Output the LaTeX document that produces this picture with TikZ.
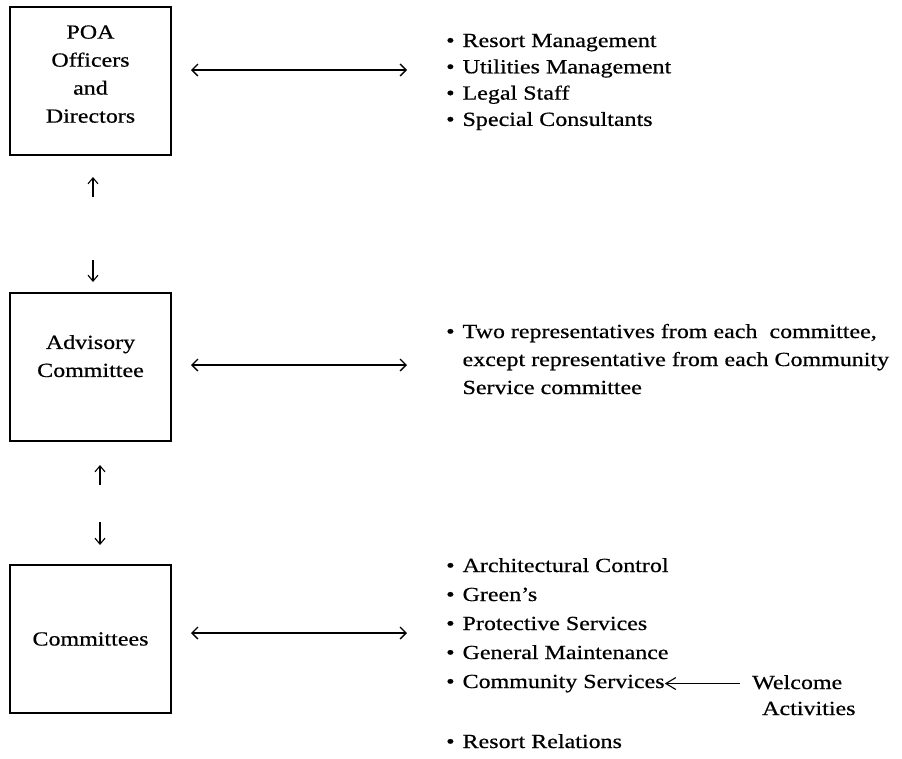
\documentclass[tikz,border=0pt]{standalone}
\usepackage{fontspec}
\setmainfont{Liberation Serif}[FakeStretch=1.2, FakeBold=0.6]
\usetikzlibrary{arrows.meta}
\newcommand{\bul}{\textbullet\hspace{8pt}}
\tikzset{
  box/.style={draw, line width=1.5pt, minimum width=161pt, minimum height=148pt, align=center, inner sep=0pt},
  item/.style={anchor=base west, inner sep=0pt},
  link/.style={{Straight Barb[length=6pt,width=12pt]}-{Straight Barb[length=6pt,width=12pt]}, line width=1.3pt},
  vert/.style={-{Straight Barb[length=6pt,width=10pt]}, line width=1.1pt},
  feed/.style={-{Straight Barb[length=10pt,width=12pt]}, line width=1.1pt, shorten <=12pt}}

\begin{document}
\begin{tikzpicture}[x=1pt, y=-1pt, font=\fontsize{20}{28}\selectfont]
\useasboundingbox (0,0) rectangle (902,758);
% the three levels
\node[box, text depth=14pt] (poa) at (90.5,81) {POA\\Officers\\and\\Directors};
\node[box, text depth=22pt] (adv) at (90.5,367) {Advisory\\Committee};
\node[box] (com) at (90.5,639) {Committees};

% up and down between levels
\coordinate (u1a) at (93,197); \coordinate (u1b) at (93,177);
\coordinate (d1a) at (93,260); \coordinate (d1b) at (93,282);
\coordinate (u2a) at (100,485); \coordinate (u2b) at (100,465);
\coordinate (d2a) at (100,522); \coordinate (d2b) at (100,545);
\draw[vert] (u1a) -- (u1b); \draw[vert] (d1a) -- (d1b);
\draw[vert] (u2a) -- (u2b); \draw[vert] (d2a) -- (d2b);

% side links
\coordinate (h1l) at (191,70); \coordinate (h1r) at (407,70);
\coordinate (h2l) at (191,365); \coordinate (h2r) at (407,365);
\coordinate (h3l) at (191,633); \coordinate (h3r) at (407,633);
\draw[link] (h1l) -- (h1r);
\draw[link] (h2l) -- (h2r);
\draw[link] (h3l) -- (h3r);

% lists
\foreach \txt [count=\i from 0] in {Resort Management, Utilities Management, Legal Staff, Special Consultants}
  \node[item] (staff\i) at (446,47+26.3*\i) {\bul\txt};
\node[item, align=left] (reps) at (446,394) {\bul Two representatives from each\ \ committee,\\\phantom{\bul}except representative from each Community\\\phantom{\bul}Service committee};
\foreach \txt [count=\i from 0] in {Architectural Control, Green’s, Protective Services, General Maintenance}
  \node[item] (cmt\i) at (446,572+29*\i) {\bul\txt};
\node[item] (cs) at (446,688) {\bul Community Services};
\node[item] (rr) at (446,748) {\bul Resort Relations};
\node[item, align=left, font=\fontsize{20}{26}\selectfont] (welc) at (752,715) {Welcome\\\hspace*{10pt}Activities};
\draw[feed] (welc.west |- cs.east) -- (cs.east);
\end{tikzpicture}
\end{document}
